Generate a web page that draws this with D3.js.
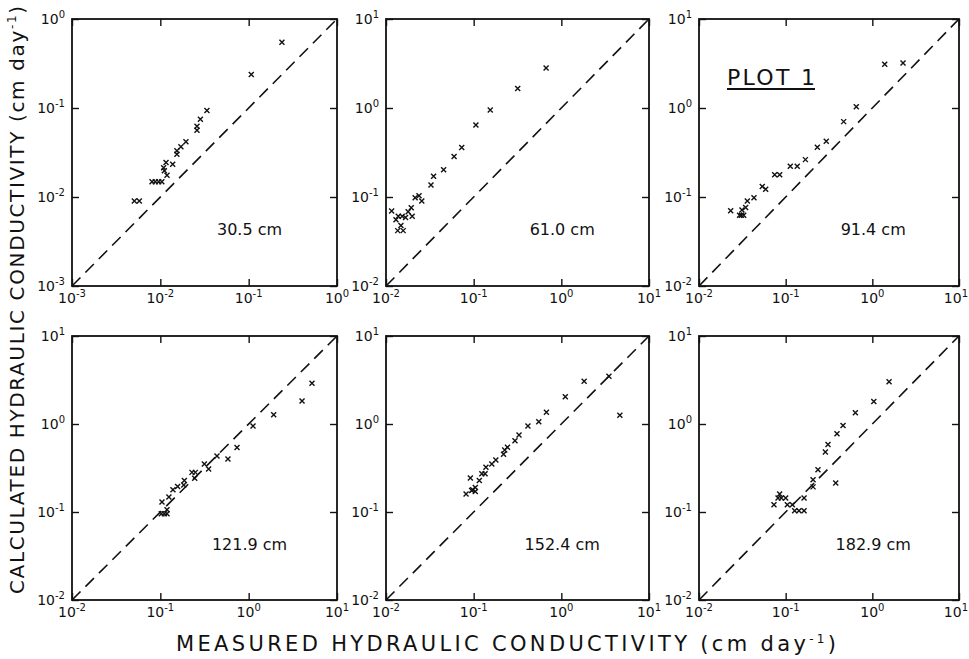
<!DOCTYPE html>
<html><head><meta charset="utf-8">
<script src="https://cdn.jsdelivr.net/npm/d3@7"></script>
<style>
body{margin:0;background:#fff;}
text{font-family:"DejaVu Sans",sans-serif;fill:#111;}
</style>
</head><body>
<svg id="chart" width="969" height="659"></svg>
<script>
// ---------- DATA ----------
const depthLabels = ["30.5 cm", "61.0 cm", "91.4 cm", "121.9 cm", "152.4 cm", "182.9 cm"];
const exponentsPanel1 = [-3, -2, -1, 0];
const exponentsOther = [-2, -1, 0, 1];

const measured30 = [0.238, 0.107, 0.0337, 0.0284, 0.026, 0.026, 0.0195, 0.0171, 0.0154, 0.0154, 0.0138, 0.0116, 0.0109, 0.0111, 0.0119, 0.00805, 0.00877, 0.00957, 0.0104, 0.00508, 0.00578];
const calc30     = [0.548, 0.238, 0.094, 0.0747, 0.0624, 0.0562, 0.0417, 0.0366, 0.033, 0.0303, 0.0234, 0.0244, 0.0213, 0.0197, 0.0176, 0.01485, 0.01485, 0.01485, 0.01485, 0.00902, 0.00902];

const measured61 = [0.67, 0.318, 0.1546, 0.106, 0.0731, 0.0598, 0.0454, 0.0349, 0.0326, 0.0238, 0.0256, 0.0215, 0.0194, 0.0179, 0.0199, 0.0116, 0.013, 0.0138, 0.0153, 0.0167, 0.0148, 0.0136, 0.0157];
const calc61     = [2.81, 1.66, 0.95, 0.644, 0.361, 0.286, 0.203, 0.1706, 0.1364, 0.1035, 0.0902, 0.0983, 0.0759, 0.0684, 0.0607, 0.0697, 0.0556, 0.0607, 0.0607, 0.059, 0.0477, 0.0419, 0.0419];

const measured91 = [2.26, 1.39, 0.653, 0.467, 0.294, 0.232, 0.169, 0.136, 0.113, 0.0853, 0.0747, 0.0588, 0.0537, 0.0431, 0.0361, 0.0345, 0.0313, 0.0232, 0.0308, 0.0328, 0.0294];
const calc91     = [3.2, 3.11, 1.03, 0.703, 0.424, 0.363, 0.263, 0.221, 0.221, 0.178, 0.178, 0.122, 0.131, 0.0983, 0.0901, 0.0764, 0.0713, 0.07, 0.0625, 0.0625, 0.0625];

const measured122 = [5.21, 4.02, 1.92, 1.12, 0.738, 0.583, 0.438, 0.352, 0.315, 0.249, 0.228, 0.245, 0.187, 0.184, 0.157, 0.139, 0.125, 0.1044, 0.119, 0.1026, 0.111, 0.119];
const calc122     = [2.9, 1.82, 1.27, 0.95, 0.541, 0.4, 0.432, 0.308, 0.351, 0.282, 0.282, 0.242, 0.228, 0.203, 0.195, 0.179, 0.148, 0.13, 0.1062, 0.0958, 0.0958, 0.0958];

const measured152 = [3.49, 4.65, 1.82, 1.11, 0.676, 0.553, 0.416, 0.329, 0.296, 0.243, 0.226, 0.219, 0.179, 0.161, 0.138, 0.135, 0.124, 0.116, 0.0917, 0.1044, 0.0974, 0.1044, 0.0948, 0.0819];
const calc152     = [3.49, 1.26, 3.07, 2.04, 1.36, 1.06, 0.949, 0.75, 0.647, 0.544, 0.508, 0.454, 0.391, 0.352, 0.323, 0.272, 0.272, 0.228, 0.243, 0.19, 0.179, 0.171, 0.175, 0.16];

const measured183 = [1.56, 1.04, 0.637, 0.459, 0.391, 0.308, 0.287, 0.378, 0.236, 0.207, 0.207, 0.163, 0.163, 0.1425, 0.127, 0.1194, 0.1045, 0.1, 0.0852, 0.0816, 0.0733, 0.0891];
const calc183     = [3.02, 1.8, 1.34, 0.961, 0.773, 0.585, 0.482, 0.214, 0.303, 0.233, 0.193, 0.144, 0.1035, 0.1035, 0.1035, 0.121, 0.121, 0.144, 0.16, 0.144, 0.121, 0.144];

const xTitle = "MEASURED HYDRAULIC  CONDUCTIVITY  (cm day";
const yTitle = "CALCULATED HYDRAULIC  CONDUCTIVITY (cm day";
const plotTag = "PLOT 1";

// ---------- LAYOUT ----------
const W = 969;
const colLeft = [72, 386, 699], colRight = [337, 649, 959];
const rowTop = [19, 336], rowBottom = [286, 600];

const panels = [
  {label: depthLabels[0], xs: measured30, ys: calc30, exps: exponentsPanel1},
  {label: depthLabels[1], xs: measured61, ys: calc61, exps: exponentsOther},
  {label: depthLabels[2], xs: measured91, ys: calc91, exps: exponentsOther},
  {label: depthLabels[3], xs: measured122, ys: calc122, exps: exponentsOther},
  {label: depthLabels[4], xs: measured152, ys: calc152, exps: exponentsOther},
  {label: depthLabels[5], xs: measured183, ys: calc183, exps: exponentsOther}
];

const svg = d3.select("#chart");
const ink = "#111";

function powLabel(g, x, y, e, anchor) {
  const t = g.append("text").attr("x", x).attr("y", y)
    .attr("text-anchor", anchor).attr("font-size", 14);
  t.append("tspan").text("10");
  t.append("tspan").attr("dy", -6).attr("font-size", 10).text(String(e));
  return t;
}

panels.forEach((p, i) => {
  const c = i % 3, r = Math.floor(i / 3);
  const L = colLeft[c], R = colRight[c], T = rowTop[r], B = rowBottom[r];
  const dom = [Math.pow(10, p.exps[0]), Math.pow(10, p.exps[p.exps.length - 1])];
  const ticks = p.exps.map(e => Math.pow(10, e));
  const x = d3.scaleLog().domain(dom).range([L, R]);
  const y = d3.scaleLog().domain(dom).range([B, T]);
  const g = svg.append("g");

  const axes = [
    [d3.axisBottom(x), `translate(0,${B})`],
    [d3.axisTop(x), `translate(0,${T})`],
    [d3.axisLeft(y), `translate(${L},0)`],
    [d3.axisRight(y), `translate(${R},0)`]
  ];
  axes.forEach(([ax, tr]) => {
    const a = g.append("g").attr("transform", tr)
      .call(ax.tickValues(ticks).tickSizeInner(-7).tickSizeOuter(0).tickFormat(""));
    a.select(".domain").remove();
    a.selectAll("line").attr("stroke", ink).attr("stroke-width", 1.4);
  });

  g.append("rect").attr("x", L).attr("y", T).attr("width", R - L).attr("height", B - T)
    .attr("fill", "none").attr("stroke", ink).attr("stroke-width", 1.8);

  // tick labels
  p.exps.forEach((e, k) => {
    const v = ticks[k];
    const lx = x(v);
    if (lx + 13 > W - 1) powLabel(g, W - 1, B + 17, e, "end");
    else powLabel(g, lx, B + 17, e, "middle");
    powLabel(g, L - 7, y(v) + 5, e, "end");
  });

  // 1:1 line
  g.append("line").attr("x1", x(dom[0])).attr("y1", y(dom[0]))
    .attr("x2", x(dom[1])).attr("y2", y(dom[1]))
    .attr("stroke", ink).attr("stroke-width", 1.6).attr("stroke-dasharray", "12,7");

  // points
  g.selectAll("path.pt").data(p.xs.map((v, k) => [v, p.ys[k]])).enter()
    .append("path").attr("class", "pt")
    .attr("transform", d => `translate(${x(d[0])},${y(d[1])})`)
    .attr("d", "M-2.5,-2.5L2.5,2.5M-2.5,2.5L2.5,-2.5")
    .attr("stroke", ink).attr("stroke-width", 1.4).attr("fill", "none");

  g.append("text").attr("x", L + 0.67 * (R - L)).attr("y", T + 0.81 * (B - T))
    .attr("text-anchor", "middle").attr("font-size", 16).text(p.label);

  if (i === 2) {
    g.append("text").attr("x", 727).attr("y", 85).attr("font-size", 22)
      .attr("textLength", 88).attr("lengthAdjust", "spacing").text(plotTag);
    g.append("line").attr("x1", 727).attr("x2", 815).attr("y1", 89).attr("y2", 89)
      .attr("stroke", ink).attr("stroke-width", 1.8);
  }
});

// axis titles
const xt = svg.append("text").attr("x", 176).attr("y", 651).attr("font-size", 21)
  .attr("textLength", 660).attr("lengthAdjust", "spacing");
xt.append("tspan").text(xTitle);
xt.append("tspan").attr("dy", -8).attr("font-size", 12).text("-1");
xt.append("tspan").attr("dy", 8).text(")");

const yt = svg.append("text").attr("transform", "translate(24,594) rotate(-90)")
  .attr("font-size", 20).attr("textLength", 588).attr("lengthAdjust", "spacing");
yt.append("tspan").text(yTitle);
yt.append("tspan").attr("dy", -8).attr("font-size", 12).text("-1");
yt.append("tspan").attr("dy", 8).text(")");
</script>
</body></html>
